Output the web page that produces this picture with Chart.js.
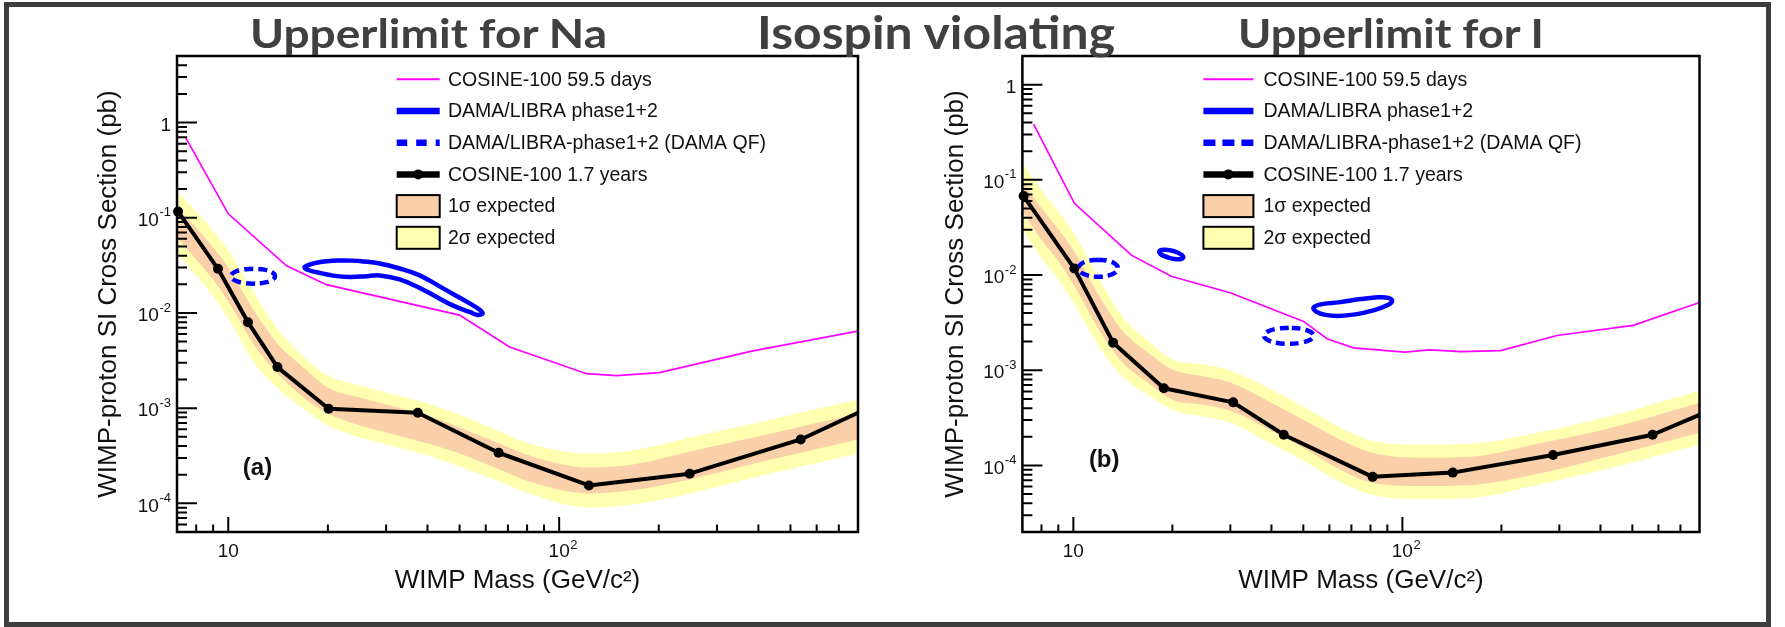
<!DOCTYPE html>
<html>
<head>
<meta charset="utf-8">
<script src="https://cdn.jsdelivr.net/npm/chart.js@4.4.1/dist/chart.umd.min.js"></script>
<style>
  html, body { margin: 0; padding: 0; background: #fff; }
  body { width: 1785px; height: 627px; position: relative; overflow: hidden; }
  .frame { position: absolute; left: 4px; top: 2px; width: 1767px; height: 625px;
           border: 5px solid #3d3d3d; box-sizing: border-box; }
  canvas { position: absolute; top: 0; }
  #naChart { left: 0; }
  #iChart { left: 880px; }
  .heading { position: absolute; font-family: Lato, "Open Sans", sans-serif; font-weight: 700;
             font-size: 41px; line-height: 41px; color: #404040; white-space: nowrap; z-index: 5;
             transform-origin: 0 50%; }
</style>
</head>
<body>
<div class="frame"></div>
<canvas id="naChart" width="880" height="627"></canvas>
<canvas id="iChart" width="905" height="627"></canvas>
<div class="heading" data-width="357" style="left:250px; top:12px;">Upperlimit for Na</div>
<div class="heading" data-width="358" style="left:757px; top:10px; font-size:45px; line-height:45px;">Isospin violating</div>
<div class="heading" data-width="306" style="left:1238px; top:12px;">Upperlimit for I</div>

<script>
// ---------- axis ticks ----------
const massTickValues = [10, 100];
const massTickBase = ['10', '10'];
const massTickExp = ['', '2'];
const sigmaTickValues = [1, 0.1, 0.01, 0.001, 0.0001];
const sigmaTickBase = ['1', '10', '10', '10', '10'];
const sigmaTickExp = ['', '-1', '-2', '-3', '-4'];

const legendLabels = ['COSINE-100 59.5 days', 'DAMA/LIBRA phase1+2',
  'DAMA/LIBRA-phase1+2 (DAMA QF)', 'COSINE-100 1.7 years', '1\u03c3 expected', '2\u03c3 expected'];

// ---------- (a) upper limit for Na ----------
const naLimitMass  = [7.05, 9.31, 11.47, 14.08, 20.1, 37.4, 65.6, 123, 248, 537, 800];
const naLimitSigma = [0.116, 0.0291, 0.0080, 0.0027, 9.86e-4, 8.95e-4, 3.40e-4, 1.54e-4, 2.05e-4, 4.69e-4, 8.95e-4];

const naBandMass   = [7, 8, 9, 10, 12, 14, 17, 20, 25, 30, 40, 50, 66, 83, 123, 167, 248, 424, 800];
const naYellowUp   = [0.189, 0.116, 0.0736, 0.0454, 0.0160, 0.00705, 0.00341, 0.00220, 0.00173, 0.00146, 0.00112, 8.59e-4, 5.69e-4, 4.16e-4, 3.34e-4, 3.60e-4, 4.92e-4, 7.43e-4, 1.23e-3];
const naYellowLo   = [0.0422, 0.0248, 0.0149, 0.00875, 0.00295, 0.00165, 9.68e-4, 6.58e-4, 4.92e-4, 4.16e-4, 3.18e-4, 2.44e-4, 1.70e-4, 1.24e-4, 9.06e-5, 9.73e-5, 1.27e-4, 2.01e-4, 3.34e-4];
const naOrangeUp   = [0.128, 0.0791, 0.0488, 0.0301, 0.0104, 0.00490, 0.00261, 0.00165, 0.00129, 0.00109, 8.38e-4, 6.27e-4, 4.26e-4, 3.11e-4, 2.38e-4, 2.56e-4, 3.51e-4, 5.30e-4, 8.80e-4];
const naOrangeLo   = [0.0621, 0.0365, 0.0225, 0.0132, 0.00456, 0.00237, 0.00126, 8.80e-4, 6.58e-4, 5.56e-4, 4.26e-4, 3.34e-4, 2.27e-4, 1.66e-4, 1.27e-4, 1.37e-4, 1.78e-4, 2.82e-4, 4.69e-4];

const naEarlyMass  = [7.45, 10, 15, 19.8, 50, 70.8, 121, 149, 201, 385, 800];
const naEarlySigma = [0.685, 0.110, 0.0313, 0.0198, 0.0095, 0.00438, 0.00230, 0.00220, 0.00236, 0.0040, 0.00644];

const naDamaMass   = [24.96, 28.69, 32.97, 37.88, 43.55, 47.65, 53.66, 57.5, 58.73, 56.74, 53.66, 47.65, 42.66, 37.88, 32.97, 28.69, 25.85, 23.28, 20.98, 18.64, 17.27, 17.02, 18.64, 21.73, 24.96];
const naDamaSigma  = [0.0352, 0.0331, 0.0293, 0.0248, 0.0190, 0.0159, 0.0126, 0.0108, 0.00988, 0.00953, 0.01024, 0.0120, 0.01472, 0.01832, 0.0225, 0.0248, 0.0242, 0.0239, 0.0245, 0.0266, 0.0286, 0.0304, 0.0339, 0.0356, 0.0352];

const naDamaQfMass  = [11.88, 11.00, 10.41, 10.19, 10.41, 11.00, 11.88, 12.83, 13.57, 13.85, 13.57, 12.83, 11.88];
const naDamaQfSigma = [0.0292, 0.0285, 0.02667, 0.02435, 0.02224, 0.02081, 0.02032, 0.02081, 0.02224, 0.02435, 0.02667, 0.0285, 0.0292];

// ---------- (b) upper limit for I ----------
const iLimitMass  = [7.06, 10.07, 13.21, 18.84, 30.6, 43.6, 81.2, 142.3, 287, 576, 800];
const iLimitSigma = [0.0676, 0.0117, 0.00195, 6.46e-4, 4.60e-4, 2.10e-4, 7.59e-5, 8.41e-5, 1.29e-4, 2.10e-4, 3.40e-4];

const iBandMass   = [7, 8, 9, 10, 12, 14, 17, 20, 25, 30, 40, 50, 64, 81, 114, 162, 257, 409, 800];
const iYellowUp   = [0.1507, 0.0783, 0.0470, 0.02825, 0.00903, 0.00377, 0.002007, 0.001296, 0.001148, 9.93e-4, 6.26e-4, 4.14e-4, 2.55e-4, 1.816e-4, 1.648e-4, 1.69e-4, 2.206e-4, 3.174e-4, 6.11e-4];
const iYellowLo   = [0.0304, 0.01503, 0.00903, 0.00517, 0.001734, 8.79e-4, 5.41e-4, 3.85e-4, 3.25e-4, 2.81e-4, 1.69e-4, 1.118e-4, 6.88e-5, 4.90e-5, 4.45e-5, 4.56e-5, 6.25e-5, 8.99e-5, 1.648e-4];
const iOrangeUp   = [0.0973, 0.0506, 0.0304, 0.01826, 0.00598, 0.00268, 0.0015, 0.001017, 8.58e-4, 7.42e-4, 4.57e-4, 3.02e-4, 1.91e-4, 1.358e-4, 1.202e-4, 1.232e-4, 1.69e-4, 2.37e-4, 4.57e-4];
const iOrangeLo   = [0.0470, 0.0233, 0.01397, 0.0080, 0.00262, 0.001235, 7.24e-4, 4.91e-4, 4.35e-4, 3.76e-4, 2.31e-4, 1.533e-4, 9.21e-5, 6.56e-5, 6.10e-5, 6.25e-5, 8.15e-5, 1.202e-4, 2.206e-4];

const iEarlyMass  = [7.57, 10.07, 15.01, 19.83, 30.1, 50.1, 59, 71, 101.7, 121, 150.7, 199, 295, 503, 800];
const iEarlySigma = [0.386, 0.0567, 0.01618, 0.00971, 0.00648, 0.00326, 0.00214, 0.00172, 0.00155, 0.00164, 0.00157, 0.00161, 0.00232, 0.00296, 0.00515];

const iDamaLowMass   = [19.71, 18.91, 18.37, 18.23, 18.49, 19.11, 19.96, 20.80, 21.40, 21.58, 21.27, 20.57, 19.71];
const iDamaLowSigma  = [0.01503, 0.01579, 0.01675, 0.01769, 0.01833, 0.01842, 0.01798, 0.01713, 0.01613, 0.01528, 0.01475, 0.01467, 0.01503];
const iDamaHighMass  = [73.48, 84.46, 90.53, 93.08, 89.91, 81.57, 71.95, 63.93, 58.41, 54.87, 53.73, 57.60, 63.93, 73.48];
const iDamaHighSigma = [0.005559, 0.005835, 0.005764, 0.005359, 0.004806, 0.004257, 0.003863, 0.003725, 0.003817, 0.004105, 0.004578, 0.004983, 0.005167, 0.005559];

const iDamaQfLowMass   = [11.90, 11.10, 10.55, 10.35, 10.55, 11.10, 11.90, 12.76, 13.42, 13.67, 13.42, 12.76, 11.90];
const iDamaQfLowSigma  = [0.01449, 0.01410, 0.01307, 0.01179, 0.01064, 0.00986, 0.00959, 0.00986, 0.01064, 0.01179, 0.01307, 0.01410, 0.01449];
const iDamaQfHighMass  = [45.15, 41.39, 38.84, 37.95, 38.84, 41.39, 45.15, 49.27, 52.50, 53.73, 52.50, 49.27, 45.15];
const iDamaQfHighSigma = [0.002798, 0.002726, 0.002539, 0.002304, 0.002091, 0.001948, 0.001898, 0.001948, 0.002091, 0.002304, 0.002539, 0.002726, 0.002798];

// ---------- styling ----------
const YELLOW = '#FFFFB0';
const ORANGE = '#FAD0AA';
const MAGENTA = '#FF00FF';
const BLUE = '#0000FF';
const FONT = '"Liberation Sans", Arial, sans-serif';
const TEXT = '#111111';

Chart.defaults.font.family = FONT;

// stretch each heading to its column width
document.querySelectorAll('.heading').forEach(el => {
  const w = el.getBoundingClientRect().width;
  el.style.transform = 'scaleX(' + (Number(el.dataset.width) / w) + ')';
});

const pts = (xs, ys) => xs.map((x, i) => ({ x, y: ys[i] }));

function bandSet(mass, values, color, fill, order) {
  return { data: pts(mass, values), borderWidth: 0, borderColor: 'transparent', pointRadius: 0,
           backgroundColor: color, fill, cubicInterpolationMode: 'monotone', order };
}
function contourSet(mass, sigma, dashed) {
  return { data: pts(mass, sigma), borderColor: BLUE, borderWidth: 4.5, pointRadius: 0, fill: false,
           tension: 0.4, borderDash: dashed ? [9, 5] : [], borderJoinStyle: 'round', order: 4 };
}

function panelDatasets(p) {
  const sets = [
    bandSet(p.bandMass, p.yellowUp, YELLOW, '+1', 10),
    bandSet(p.bandMass, p.yellowLo, YELLOW, false, 10),
    bandSet(p.bandMass, p.orangeUp, ORANGE, '+1', 9),
    bandSet(p.bandMass, p.orangeLo, ORANGE, false, 9),
    { data: pts(p.earlyMass, p.earlySigma), borderColor: MAGENTA, borderWidth: 1.7, pointRadius: 0,
      fill: false, tension: 0, order: 5 }
  ];
  p.contours.forEach(c => sets.push(contourSet(c[0], c[1], false)));
  p.qfContours.forEach(c => sets.push(contourSet(c[0], c[1], true)));
  const last = p.limitMass.length - 1;
  sets.push({ data: pts(p.limitMass, p.limitSigma), borderColor: '#000', borderWidth: 4,
              borderJoinStyle: 'round', pointRadius: p.limitMass.map((m, i) => (i === last ? 0 : 5)),
              pointBackgroundColor: '#000', pointBorderWidth: 0, fill: false, tension: 0,
              clip: false, order: 1 });
  return sets;
}

// Frame, inward ticks, tick labels, legend and panel tag
const panelDecor = {
  id: 'panelDecor',
  afterDatasetsDraw(chart, args, o) {
    const { ctx, chartArea: a } = chart;
    const xs = chart.scales.x, ys = chart.scales.y;
    ctx.save();
    ctx.strokeStyle = '#000';
    ctx.lineWidth = 2;
    ctx.beginPath();
    for (let e = -6; e <= 3; e++) {
      for (let k = 1; k <= 9; k++) {
        const v = k * Math.pow(10, e);
        if (v > xs.min * 1.001 && v < xs.max * 0.999) {
          const px = xs.getPixelForValue(v);
          const len = k === 1 ? 15 : 7.5;
          ctx.moveTo(px, a.bottom); ctx.lineTo(px, a.bottom - len);
        }
        if (v > ys.min * 1.001 && v < ys.max * 0.999) {
          const py = ys.getPixelForValue(v);
          const len = k === 1 ? 20 : 10;
          ctx.moveTo(a.left, py); ctx.lineTo(a.left + len, py);
        }
      }
    }
    ctx.stroke();
    ctx.lineWidth = 2.5;
    ctx.strokeRect(a.left, a.top, a.right - a.left, a.bottom - a.top);

    // tick labels
    ctx.fillStyle = TEXT;
    ctx.textBaseline = 'middle';
    massTickValues.forEach((v, i) => {
      const px = xs.getPixelForValue(v);
      ctx.font = '19px ' + FONT;
      ctx.textAlign = 'center';
      ctx.fillText(massTickBase[i], px, a.bottom + 20);
      if (massTickExp[i]) {
        const w = ctx.measureText(massTickBase[i]).width;
        ctx.font = '13px ' + FONT;
        ctx.textAlign = 'left';
        ctx.fillText(massTickExp[i], px + w / 2 + 0.5, a.bottom + 13);
      }
    });
    sigmaTickValues.forEach((v, i) => {
      const py = ys.getPixelForValue(v);
      let xr = a.left - 6;
      ctx.textAlign = 'right';
      if (sigmaTickExp[i]) {
        ctx.font = '13px ' + FONT;
        ctx.fillText(sigmaTickExp[i], xr, py - 5);
        xr -= ctx.measureText(sigmaTickExp[i]).width + 0.5;
      }
      ctx.font = '19px ' + FONT;
      ctx.fillText(sigmaTickBase[i], xr, py + 3);
    });

    // panel tag
    ctx.font = 'bold 24px ' + FONT;
    ctx.textAlign = 'center';
    ctx.fillText(o.tag, a.left + o.tagDx, a.top + o.tagDy);

    // legend
    const x0 = a.left + o.legX, x1 = x0 + o.legW, tx = a.left + o.legText;
    legendLabels.forEach((label, i) => {
      const y = a.top + o.legTop + i * o.legStep;
      ctx.save();
      ctx.setLineDash([]);
      if (i === 0) {
        ctx.strokeStyle = MAGENTA; ctx.lineWidth = 2;
        ctx.beginPath(); ctx.moveTo(x0, y); ctx.lineTo(x1, y); ctx.stroke();
      } else if (i === 1 || i === 2) {
        ctx.strokeStyle = BLUE; ctx.lineWidth = 6.5;
        if (i === 2) ctx.setLineDash(o.legDash);
        ctx.beginPath(); ctx.moveTo(x0, y); ctx.lineTo(x1, y); ctx.stroke();
      } else if (i === 3) {
        ctx.strokeStyle = '#000'; ctx.lineWidth = 6.5;
        ctx.beginPath(); ctx.moveTo(x0, y); ctx.lineTo(x1, y); ctx.stroke();
        ctx.fillStyle = '#000';
        ctx.beginPath(); ctx.arc((x0 + x1) / 2, y, 5, 0, Math.PI * 2); ctx.fill();
      } else {
        ctx.fillStyle = i === 4 ? ORANGE : YELLOW;
        ctx.fillRect(x0, y - 11, x1 - x0, 22);
        ctx.strokeStyle = '#000'; ctx.lineWidth = 2;
        ctx.strokeRect(x0, y - 11, x1 - x0, 22);
      }
      ctx.restore();
      ctx.fillStyle = TEXT;
      ctx.font = '19.5px ' + FONT;
      ctx.textAlign = 'left';
      ctx.textBaseline = 'middle';
      ctx.fillText(label, tx, y + 1);
    });
    ctx.restore();
  }
};

function makePanel(canvasId, p, g) {
  return new Chart(document.getElementById(canvasId), {
    type: 'line',
    data: { datasets: panelDatasets(p) },
    options: {
      responsive: false,
      animation: false,
      devicePixelRatio: 1,
      layout: { padding: { top: 56, right: g.padRight, left: 0, bottom: 0 } },
      plugins: {
        legend: { display: false },
        tooltip: { enabled: false },
        panelDecor: g.decor
      },
      scales: {
        x: {
          type: 'logarithmic', min: 7, max: 800, position: 'bottom',
          grid: { display: false }, border: { display: false }, ticks: { display: false },
          title: { display: true, text: 'WIMP Mass (GeV/c\u00b2)', color: TEXT,
                   font: { size: 26, family: FONT }, padding: { top: 0, bottom: 31 } },
          afterFit: s => { s.height = 95; }
        },
        y: {
          type: 'logarithmic', min: g.yMin, max: g.yMax, position: 'left',
          grid: { display: false }, border: { display: false }, ticks: { display: false },
          title: { display: true, text: 'WIMP-proton SI Cross Section (pb)', color: TEXT,
                   font: { size: 26, family: FONT }, padding: { top: g.yTitlePad, bottom: 0 } },
          afterFit: s => { s.width = g.yAxisWidth; }
        }
      }
    },
    plugins: [panelDecor]
  });
}

makePanel('naChart', {
  limitMass: naLimitMass, limitSigma: naLimitSigma,
  bandMass: naBandMass, yellowUp: naYellowUp, yellowLo: naYellowLo, orangeUp: naOrangeUp, orangeLo: naOrangeLo,
  earlyMass: naEarlyMass, earlySigma: naEarlySigma,
  contours: [[naDamaMass, naDamaSigma]],
  qfContours: [[naDamaQfMass, naDamaQfSigma]]
}, {
  padRight: 22, yAxisWidth: 177, yTitlePad: 93.4, yMin: 5e-5, yMax: 5,
  decor: { tag: '(a)', tagDx: 80.5, tagDy: 412, legX: 219.7, legW: 43, legText: 271,
           legTop: 23.3, legStep: 31.7, legDash: [10.5, 9] }
});

makePanel('iChart', {
  limitMass: iLimitMass, limitSigma: iLimitSigma,
  bandMass: iBandMass, yellowUp: iYellowUp, yellowLo: iYellowLo, orangeUp: iOrangeUp, orangeLo: iOrangeLo,
  earlyMass: iEarlyMass, earlySigma: iEarlySigma,
  contours: [[iDamaLowMass, iDamaLowSigma], [iDamaHighMass, iDamaHighSigma]],
  qfContours: [[iDamaQfLowMass, iDamaQfLowSigma], [iDamaQfHighMass, iDamaQfHighSigma]]
}, {
  padRight: 85.5, yAxisWidth: 142.4, yTitlePad: 60.4, yMin: 2e-5, yMax: 2,
  decor: { tag: '(b)', tagDx: 81.8, tagDy: 404, legX: 181, legW: 50, legText: 241,
           legTop: 23.3, legStep: 31.7, legDash: [12, 7] }
});
</script>
</body>
</html>
